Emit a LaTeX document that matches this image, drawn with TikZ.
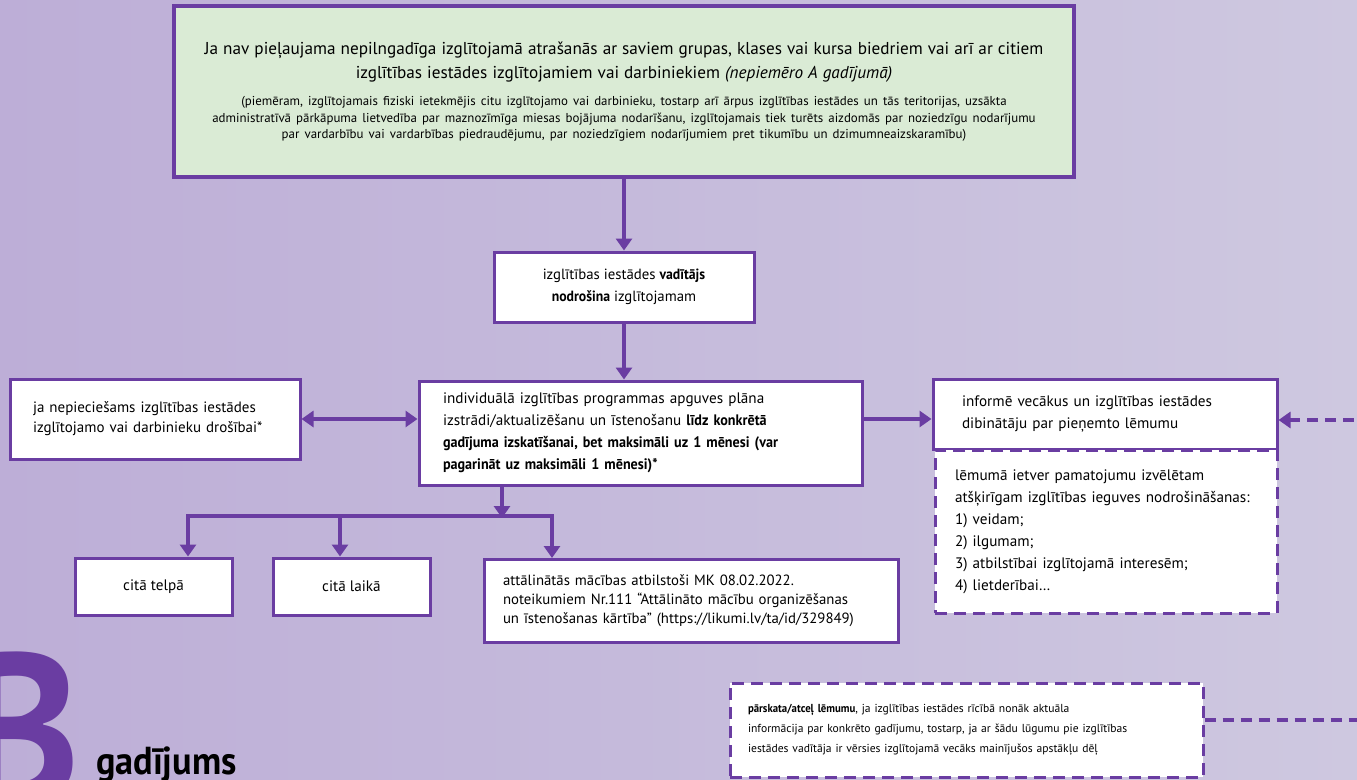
\documentclass[tikz,border=0pt]{standalone}
\usepackage{fontspec}
\setmainfont{PT Sans}[BoldFeatures={FakeStretch=0.93}]
\usetikzlibrary{arrows.meta}
\definecolor{vio}{HTML}{6A3DA2}
\definecolor{bgL}{HTML}{BDAED7}
\definecolor{bgR}{HTML}{CEC8E0}
\definecolor{mint}{HTML}{DAEBD5}
\begin{document}
\begin{tikzpicture}[x=1pt,y=-1pt,
    box/.style={draw=vio, line width=3pt, fill=white, inner ysep=0pt, align=left,
      font=\fontsize{15.2}{22}\selectfont},
    dbox/.style={box, dash pattern=on 12pt off 7pt},
    link/.style={draw=vio, line width=3.5pt, line join=miter},
    arr/.style={link, -{Triangle[width=16pt,length=12pt]}},
    darr/.style={arr, dash pattern=on 11pt off 7pt}]
  \useasboundingbox (0,0) rectangle (1357,779);
  \clip (0,0) rectangle (1357,779);
  \shade[left color=bgL, right color=bgR] (0,0) rectangle (1357,779);
  \node[box, fill=mint, line width=3.5pt, minimum width=900, minimum height=171,
    text width=886, align=center, inner xsep=7pt] (top) at (624,91.5)
    {\fontsize{17.2}{24}\selectfont
     Ja nav pieļaujama nepilngadīga izglītojamā atrašanās ar saviem grupas, klases vai kursa biedriem vai arī ar citiem\\
     izglītības iestādes izglītojamiem vai darbiniekiem \textit{(nepiemēro A gadījumā)}\par
     \vspace{11pt}\fontsize{12.9}{16.5}\selectfont
     (piemēram, izglītojamais fiziski ietekmējis citu izglītojamo vai darbinieku, tostarp arī ārpus izglītības iestādes un tās teritorijas, uzsākta\\
     administratīvā pārkāpuma lietvedība par maznozīmīga miesas bojājuma nodarīšanu, izglītojamais tiek turēts aizdomās par noziedzīgu nodarījumu\\
     par vardarbību vai vardarbības piedraudējumu, par noziedzīgiem nodarījumiem pret tikumību un dzimumneaizskaramību)\par};
  \node[box, minimum width=260, minimum height=70, align=center, font=\fontsize{14.8}{22}\selectfont] (lead) at (624,287)
    {izglītības iestādes \textbf{vadītājs}\\ \textbf{nodrošina} izglītojamam};
  \node[box, minimum width=443, minimum height=104, inner xsep=24pt, text width=395] (plan) at (640.5,433)
    {individuālā izglītības programmas apguves plāna\\
     izstrādi/aktualizēšanu un īstenošanu \textbf{līdz konkrētā}\\
     \textbf{gadījuma izskatīšanai, bet maksimāli uz 1 mēnesi (var}\\
     \textbf{pagarināt uz maksimāli 1 mēnesi)*}};
  \node[box, minimum width=290, minimum height=80, inner xsep=23pt, text width=244,
    font=\fontsize{15}{20}\selectfont] (safe) at (155,419)
    {ja nepieciešams izglītības iestādes\\ izglītojamo vai darbinieku drošībai*};
  \node[box, minimum width=344, minimum height=70, inner xsep=29pt, text width=286] (inform) at (1105,414)
    {informē vecākus un izglītības iestādes\\ dibinātāju par pieņemto lēmumu};
  \node[dbox, minimum width=342, minimum height=163, inner xsep=20pt, text width=302] (basis) at (1106,531.5)
    {lēmumā ietver pamatojumu izvēlētam\\
     \mbox{atšķirīgam izglītības ieguves nodrošināšanas:}\\
     1) veidam;\\ 2) ilgumam;\\ 3) atbilstībai izglītojamā interesēm;\\ 4) lietderībai…};
  \node[box, minimum width=157, minimum height=57, align=center] (room) at (153.5,586.5) {citā telpā};
  \node[box, minimum width=157, minimum height=57, align=center] (time) at (351.5,586.5) {citā laikā};
  \node[box, minimum width=414, minimum height=83, inner xsep=19pt, text width=376,
    font=\fontsize{14.8}{19}\selectfont] (remote) at (691,601)
    {\mbox{attālinātās mācības atbilstoši MK 08.02.2022.}\\
     \mbox{noteikumiem Nr.111 “Attālināto mācību organizēšanas}\\
     \mbox{un īstenošanas kārtība” (https://likumi.lv/ta/id/329849)}};
  \node[dbox, minimum width=473, minimum height=94, inner xsep=18pt, text width=437,
    font=\fontsize{11.6}{20}\selectfont] (review) at (966.5,730)
    {\textbf{pārskata/atceļ lēmumu}, ja izglītības iestādes rīcībā nonāk aktuāla\\
     informācija par konkrēto gadījumu, tostarp, ja ar šādu lūgumu pie izglītības\\
     iestādes vadītāja ir vērsies izglītojamā vecāks mainījušos apstākļu dēļ};
  \node[anchor=north east, inner sep=0pt, text=vio, font=\fontsize{215}{215}\selectfont\bfseries] (bigB) at (81,652) {B};
  \node[anchor=base west, inner sep=0pt, font=\fontsize{39}{39}\selectfont\bfseries] (caseB) at (96,774) {gadījums};
  \coordinate (split) at (502,516);
  \coordinate (barL) at (188,516);
  \coordinate (barM) at (340,516);
  \coordinate (barR) at (552,516);
  \coordinate (rimA) at (1390,420);
  \coordinate (rimB) at (1390,720);
  \begin{scope}
    \draw[arr] (top) -- (lead);
    \draw[arr] (lead) -- (lead |- plan.north);
    \draw[link, {Triangle[width=16pt,length=12pt]}-{Triangle[width=16pt,length=12pt]}] (safe.east) -- (safe.east -| plan.west);
    \draw[arr] (plan.east |- safe.east) -- (inform.west |- safe.east);
    \draw[arr] (split |- plan.south) -- ([yshift=-2pt]split);
    \draw[arr] (barM) -| (barL |- room.north);
    \draw[arr] (barM) -| (barR |- remote.north);
    \draw[arr] (barM) -- (barM |- time.north);
    \draw[darr] (review.east |- rimB) -- (rimB) -- (rimA) -- (inform.east |- rimA);
  \end{scope}
\end{tikzpicture}
\end{document}
